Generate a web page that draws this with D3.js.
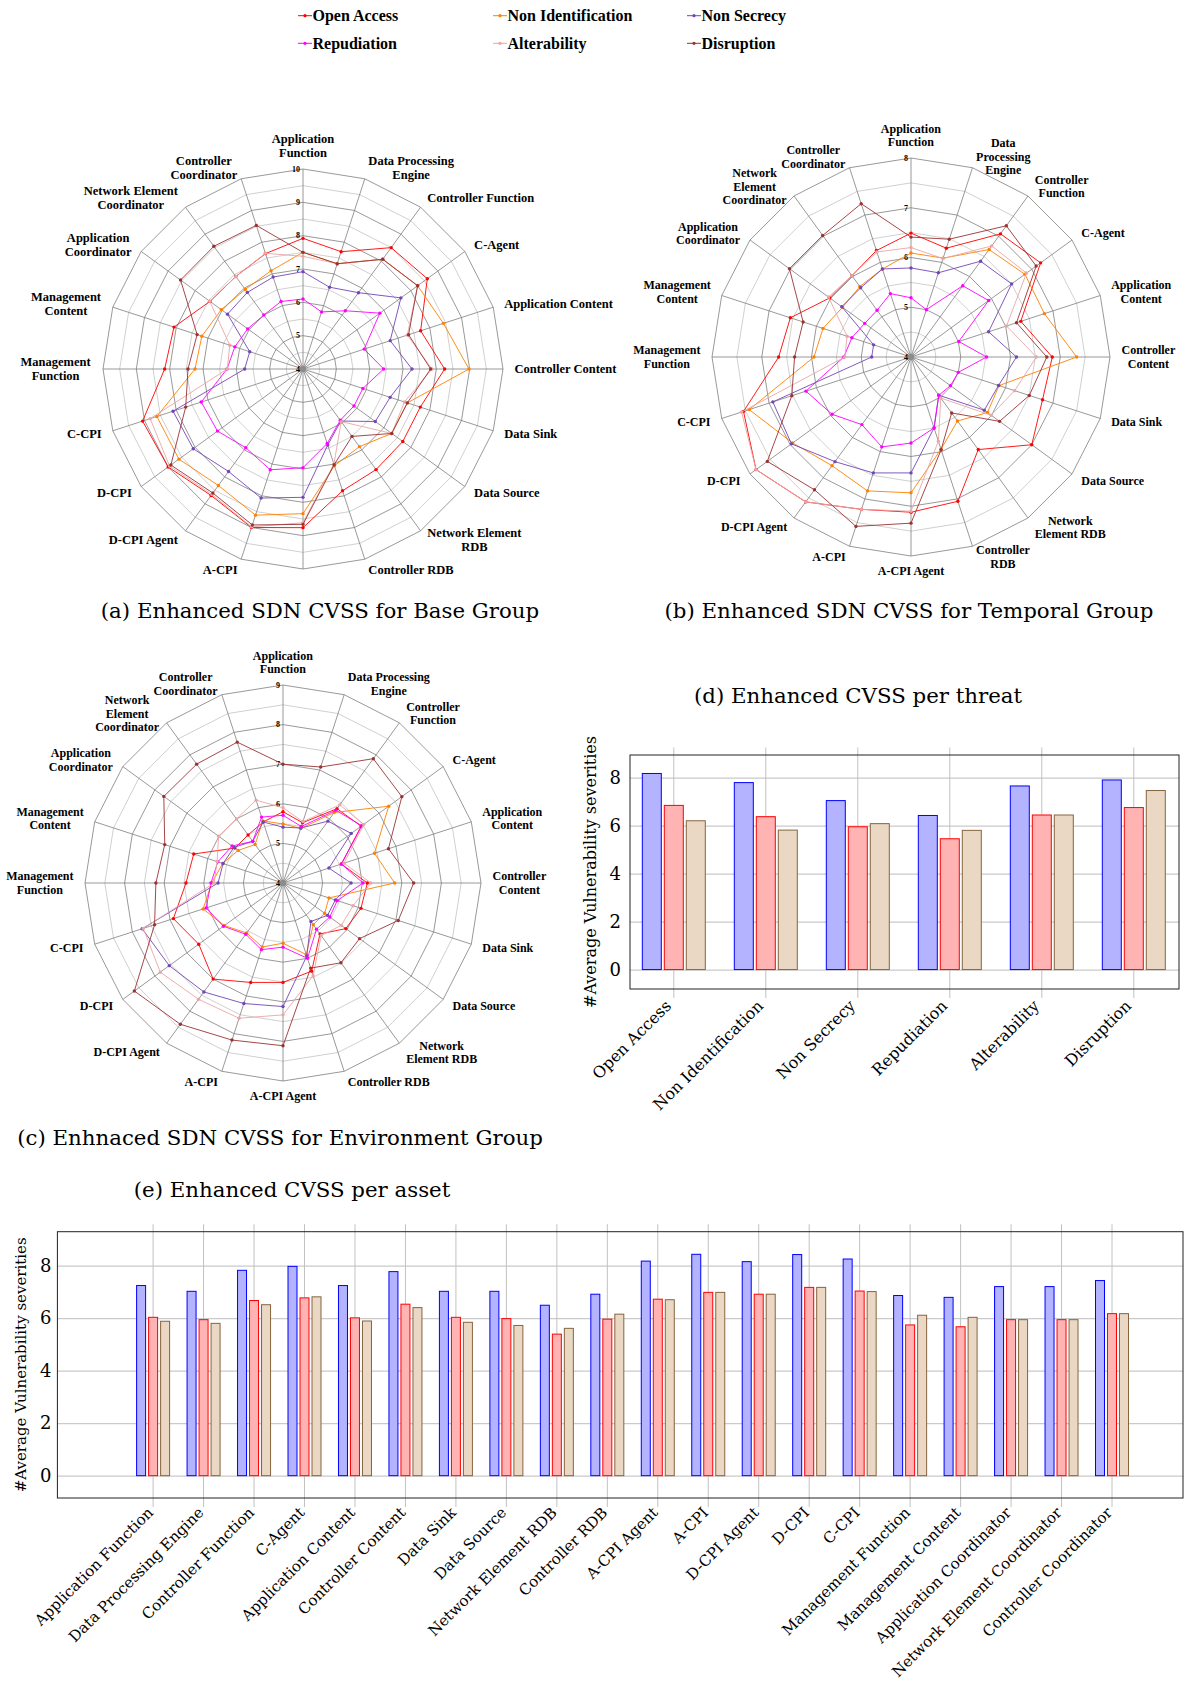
<!DOCTYPE html>
<html>
<head>
<meta charset="utf-8">
<script src="https://cdn.jsdelivr.net/npm/d3@7"></script>
<style>
  body { margin: 0; background: #fff; }
  svg { display: block; }
  .rl { font-family: "Liberation Serif", "Times New Roman", serif; font-weight: bold; fill: #000; }
  .cap { font-family: "DejaVu Serif", serif; fill: #000; }
</style>
</head>
<body>
<svg id="fig" width="1184" height="1682"></svg>
<script>
// ---- categories ----
const threats = ["Open Access", "Non Identification", "Non Secrecy", "Repudiation", "Alterability", "Disruption"];
const threatColors = ["#ff0000", "#ff8000", "#7346b5", "#ff00ff", "#eaa6a6", "#9b3232"];

const assets = ["Application Function", "Data Processing Engine", "Controller Function", "C-Agent",
  "Application Content", "Controller Content", "Data Sink", "Data Source", "Network Element RDB",
  "Controller RDB", "A-CPI Agent", "A-CPI", "D-CPI Agent", "D-CPI", "C-CPI", "Management Function",
  "Management Content", "Application Coordinator", "Network Element Coordinator", "Controller Coordinator"];

// radar axis labels (line breaks as drawn)
const labelsBase = ["Application\nFunction", "Data Processing\nEngine", "Controller Function", "C-Agent",
  "Application Content", "Controller Content", "Data Sink", "Data Source", "Network Element\nRDB",
  "Controller RDB", "", "A-CPI", "D-CPI Agent", "D-CPI", "C-CPI", "Management\nFunction",
  "Management\nContent", "Application\nCoordinator", "Network Element\nCoordinator", "Controller\nCoordinator"];
const labelsTemporal = ["Application\nFunction", "Data\nProcessing\nEngine", "Controller\nFunction", "C-Agent",
  "Application\nContent", "Controller\nContent", "Data Sink", "Data Source", "Network\nElement RDB",
  "Controller\nRDB", "A-CPI Agent", "A-CPI", "D-CPI Agent", "D-CPI", "C-CPI", "Management\nFunction",
  "Management\nContent", "Application\nCoordinator", "Network\nElement\nCoordinator", "Controller\nCoordinator"];
const labelsEnvironment = ["Application\nFunction", "Data Processing\nEngine", "Controller\nFunction", "C-Agent",
  "Application\nContent", "Controller\nContent", "Data Sink", "Data Source", "Network\nElement RDB",
  "Controller RDB", "A-CPI Agent", "A-CPI", "D-CPI Agent", "D-CPI", "C-CPI", "Management\nFunction",
  "Management\nContent", "Application\nCoordinator", "Network\nElement\nCoordinator", "Controller\nCoordinator"];

// ---- radar scores, one row per threat (same order as threats) ----
const baseScores = [
  [7.92, 7.7, 8.5, 8.61, 7.71, 8.25, 7.7, 7.7, 7.73, 7.84, 8.76, 9.0, 8.69, 9.0, 9.06, 8.15, 8.07, 7.45, 7.43, 7.64],
  [7.5, 7.32, 8.07, 8.25, 8.43, 8.98, 7.29, 7.29, 6.88, 7.05, 8.34, 8.61, 8.32, 8.6, 8.61, 7.24, 7.19, 7.03, 6.95, 7.1],
  [6.92, 6.58, 6.83, 7.63, 6.75, 7.27, 6.75, 6.68, 5.93, 6.4, 7.85, 8.07, 7.8, 8.07, 8.1, 5.75, 5.68, 6.8, 6.84, 6.9],
  [6.1, 5.8, 6.16, 6.85, 5.93, 6.42, 5.89, 5.89, 5.9, 6.35, 6.96, 7.18, 6.92, 7.17, 7.21, 6.28, 6.15, 6.05, 6.0, 6.13],
  [7.38, 7.32, 8.07, 8.25, 7.29, 7.87, 7.2, 7.29, 5.95, 7.0, 8.61, 8.98, 8.65, 8.95, 8.82, 6.27, 6.31, 7.46, 7.43, 7.65],
  [7.5, 7.32, 8.07, 8.25, 7.33, 7.83, 7.29, 7.29, 6.5, 7.02, 8.66, 8.92, 8.6, 8.9, 7.7, 7.45, 7.34, 8.54, 8.55, 8.53]
];
const temporalScores = [
  [6.49, 6.3, 7.06, 7.22, 6.32, 6.84, 6.78, 7.0, 6.3, 7.05, 7.12, 7.22, 7.6, 7.85, 7.54, 6.66, 6.55, 6.02, 6.02, 6.25],
  [6.09, 6.09, 6.67, 6.83, 6.82, 7.33, 5.86, 5.9, 5.59, 5.95, 6.73, 6.83, 6.7, 6.94, 7.42, 5.95, 5.86, 5.7, 5.75, 5.86],
  [5.79, 5.78, 6.38, 6.5, 5.64, 6.12, 5.85, 5.82, 4.95, 5.5, 6.33, 6.45, 6.6, 6.97, 6.92, 4.79, 4.79, 5.72, 5.72, 5.86],
  [5.19, 5.0, 5.77, 5.93, 5.01, 5.52, 5.0, 4.98, 4.95, 5.5, 5.73, 5.9, 5.68, 5.96, 6.22, 5.35, 5.25, 5.15, 5.16, 5.34],
  [6.2, 6.08, 6.76, 6.87, 6.02, 6.52, 6.19, 5.99, 5.02, 5.78, 7.1, 7.22, 7.6, 7.85, 7.58, 5.33, 5.35, 6.05, 6.02, 6.22],
  [6.41, 6.49, 7.26, 7.11, 6.23, 6.73, 6.5, 6.2, 5.39, 5.96, 7.34, 7.58, 7.3, 7.57, 6.52, 6.34, 6.28, 7.02, 7.02, 7.24]
];
const environmentScores = [
  [5.8, 5.6, 6.32, 6.44, 5.55, 6.13, 6.07, 5.96, 5.59, 6.34, 6.51, 6.64, 7.0, 6.63, 6.91, 6.45, 6.37, 5.5, 5.5, 5.62],
  [5.49, 5.45, 6.2, 7.3, 6.43, 6.82, 5.22, 5.3, 5.3, 5.9, 5.52, 5.7, 5.56, 5.83, 6.12, 5.8, 5.6, 5.4, 5.2, 5.65],
  [5.41, 5.46, 5.93, 6.13, 5.22, 5.72, 5.39, 5.39, 5.2, 5.94, 7.12, 7.2, 7.4, 7.55, 7.74, 5.64, 5.59, 5.53, 5.3, 5.62],
  [5.71, 5.5, 6.27, 6.46, 5.55, 6.02, 5.44, 5.46, 5.44, 6.0, 5.62, 5.77, 5.6, 5.86, 6.04, 5.82, 5.73, 5.59, 5.3, 5.75],
  [5.9, 5.63, 6.44, 6.52, 5.62, 6.22, 5.86, 5.82, 5.64, 6.46, 7.33, 7.59, 7.63, 7.83, 7.71, 5.74, 5.75, 6.01, 6.0, 6.2],
  [7.0, 7.08, 7.88, 7.71, 6.8, 7.3, 7.06, 6.39, 6.49, 6.26, 8.11, 8.17, 8.41, 8.64, 7.41, 7.21, 7.14, 7.72, 7.71, 7.74]
];

// ---- averages per threat (base / temporal / environment) ----
const threatBase = [8.17, 7.79, 7.04, 6.42, 7.65, 7.9];
const threatTemporal = [6.84, 6.37, 5.95, 5.45, 6.44, 6.75];
const threatEnvironment = [6.2, 5.81, 6.08, 5.8, 6.44, 7.46];

// ---- averages per asset ----
const assetBase = [7.24, 7.02, 7.82, 7.97, 7.24, 7.77, 7.02, 7.02, 6.49, 6.91, 8.17, 8.43, 8.15, 8.42, 8.25, 6.86, 6.79, 7.2, 7.2, 7.43];
const assetTemporal = [6.03, 5.94, 6.67, 6.77, 6.01, 6.53, 6.03, 5.98, 5.39, 5.96, 6.72, 6.98, 6.91, 7.17, 7.03, 5.74, 5.67, 5.94, 5.94, 6.17];
const assetEnvironment = [5.88, 5.8, 6.51, 6.81, 5.89, 6.4, 5.84, 5.72, 5.61, 6.15, 6.7, 6.98, 6.91, 7.17, 7.01, 6.11, 6.03, 5.94, 5.94, 6.17];

const barTicks = [0, 2, 4, 6, 8];
const barFill = ["#b3b3ff", "#ffb3b3", "#ead8c4"];
const barStroke = ["#0000ff", "#ff0000", "#86643f"];

const svg = d3.select("#fig");

// ---------- legend ----------
const legendX = [298, 493, 687];
const legendY = [15.7, 43.3];
threats.forEach((t, i) => {
  const x0 = legendX[i % 3], y0 = legendY[Math.floor(i / 3)];
  const lg = svg.append("g");
  lg.append("line").attr("x1", x0).attr("x2", x0 + 14).attr("y1", y0).attr("y2", y0)
    .attr("stroke", threatColors[i]).attr("stroke-width", 1);
  lg.append("circle").attr("cx", x0 + 7).attr("cy", y0).attr("r", 1.6).attr("fill", threatColors[i]);
  lg.append("text").attr("class", "rl").attr("x", x0 + 14.5).attr("y", y0 + 5.5)
    .attr("font-size", 16).text(t);
});

// ---------- radar ----------
function drawRadar(cfg) {
  const n = assets.length;
  const step = 2 * Math.PI / n;
  const r = d3.scaleLinear().domain([4, cfg.max]).range([0, cfg.R]);
  const g = svg.append("g").attr("transform", `translate(${cfg.cx},${cfg.cy})`);
  const ring = d3.lineRadial().angle((d, i) => i * step).radius(d => r(d)).curve(d3.curveLinearClosed);
  const levels = d3.range(4.5, cfg.max + 0.001, 0.5);

  // half-step rings (light) under the whole-number rings (dark)
  g.append("g").selectAll("path").data(levels.filter(v => v % 1 !== 0)).join("path")
    .attr("d", v => ring(assets.map(() => v)))
    .attr("fill", "none").attr("stroke", "#c4c4c4").attr("stroke-width", 0.8);
  g.append("g").selectAll("path").data(levels.filter(v => v % 1 === 0)).join("path")
    .attr("d", v => ring(assets.map(() => v)))
    .attr("fill", "none").attr("stroke", "#7f7f7f").attr("stroke-width", 0.8);
  g.append("g").selectAll("line").data(assets).join("line")
    .attr("x1", 0).attr("y1", 0)
    .attr("x2", (d, i) => Math.sin(i * step) * cfg.R)
    .attr("y2", (d, i) => -Math.cos(i * step) * cfg.R)
    .attr("stroke", "#7f7f7f").attr("stroke-width", 0.8);
  g.append("circle").attr("r", 3.2).attr("fill", "#8c8c8c");

  g.append("g").selectAll("text").data(d3.range(4, cfg.max + 0.001, 1)).join("text")
    .attr("class", "rl").attr("font-size", 8).attr("text-anchor", "end")
    .attr("x", -3).attr("y", v => -r(v)).attr("dy", "0.35em").text(v => v);

  cfg.scores.forEach((vals, s) => {
    const line = d3.lineRadial().angle((d, i) => i * step).radius(d => r(d)).curve(d3.curveLinearClosed);
    g.append("path").attr("d", line(vals)).attr("fill", "none")
      .attr("stroke", threatColors[s]).attr("stroke-width", 0.9);
    g.append("g").selectAll("circle").data(vals).join("circle")
      .attr("cx", (d, i) => Math.sin(i * step) * r(d))
      .attr("cy", (d, i) => -Math.cos(i * step) * r(d))
      .attr("r", 1.7).attr("fill", threatColors[s]);
  });

  // axis labels: west/east anchored beside the rim, north/south at top and bottom
  cfg.labels.forEach((lab, i) => {
    if (!lab) return;
    const t = g.append("text").attr("class", "rl").attr("font-size", cfg.fs).attr("text-anchor", "middle");
    lab.split("\n").forEach((ln, k) => t.append("tspan").attr("x", 0).attr("dy", k ? cfg.lh : 0).text(ln));
    const b = t.node().getBBox();
    const ux = Math.sin(i * step), uy = -Math.cos(i * step);
    const rx = ux * cfg.R, ry = uy * cfg.R;
    let left, top;
    if (Math.abs(ux) > 0.05) {
      const px = rx + ux * cfg.pad, py = ry + uy * cfg.pad;
      left = ux > 0 ? px : px - b.width;
      top = py - b.height / 2;
    } else {
      left = -b.width / 2;
      top = uy < 0 ? ry - 9 - b.height : ry + 8;
    }
    t.attr("transform", `translate(${left - b.x},${top - b.y})`);
  });
}

drawRadar({ cx: 303, cy: 369, R: 200, max: 10, scores: baseScores, labels: labelsBase, fs: 12.5, lh: 14, pad: 11.5 });
drawRadar({ cx: 911, cy: 357, R: 199, max: 8, scores: temporalScores, labels: labelsTemporal, fs: 12, lh: 13.5, pad: 11.5 });
drawRadar({ cx: 283, cy: 883, R: 198, max: 9, scores: environmentScores, labels: labelsEnvironment, fs: 12, lh: 13.5, pad: 11.5 });

// ---------- grouped bars ----------
function drawBars(cfg) {
  const x = d3.scalePoint().domain(cfg.cats).range(cfg.xr);
  const inner = d3.scaleBand().domain([0, 1, 2])
    .range([-1.5 * cfg.step, 1.5 * cfg.step])
    .paddingInner(cfg.gap / cfg.step).paddingOuter(cfg.gap / cfg.step / 2);
  const y = d3.scaleLinear().domain(cfg.yd).range([cfg.bottom, cfg.top]);
  const g = svg.append("g");
  const w = cfg.right - cfg.left;

  // horizontal grid
  const gy = g.append("g").attr("transform", `translate(${cfg.left},0)`)
    .call(d3.axisLeft(y).tickValues(barTicks).tickSize(-w).tickFormat(""));
  gy.select(".domain").remove();
  gy.selectAll("line").attr("stroke", "#cacaca").attr("stroke-width", 1.2);

  // vertical grid with outside ticks
  g.append("g").selectAll("line").data(cfg.cats).join("line")
    .attr("x1", d => x(d)).attr("x2", d => x(d))
    .attr("y1", cfg.top - 7.5).attr("y2", cfg.bottom + 9)
    .attr("stroke", "#c2c2c2").attr("stroke-width", 1);

  // bars
  [cfg.base, cfg.temporal, cfg.env].forEach((vals, s) => {
    g.append("g").selectAll("rect").data(vals).join("rect")
      .attr("x", (d, i) => x(cfg.cats[i]) + inner(s))
      .attr("width", inner.bandwidth())
      .attr("y", d => y(d))
      .attr("height", d => y(0) - y(d))
      .attr("fill", barFill[s]).attr("stroke", barStroke[s]).attr("stroke-width", 1);
  });

  // frame
  g.append("rect").attr("x", cfg.left).attr("y", cfg.top).attr("width", w).attr("height", cfg.bottom - cfg.top)
    .attr("fill", "none").attr("stroke", "#222").attr("stroke-width", 1);

  // y tick labels
  const ya = g.append("g").attr("transform", `translate(${cfg.left},0)`)
    .call(d3.axisLeft(y).tickValues(barTicks).tickSize(0).tickPadding(cfg.tp));
  ya.select(".domain").remove();
  ya.selectAll("text").attr("class", "cap").attr("font-size", 18).attr("fill", "#000");

  // x tick labels, rotated
  const xa = g.append("g").attr("transform", `translate(0,${cfg.bottom})`)
    .call(d3.axisBottom(x).tickSize(0));
  xa.select(".domain").remove();
  xa.selectAll("text").attr("class", "cap").attr("font-size", cfg.xfs).attr("fill", "#000")
    .attr("y", null).attr("dy", null).attr("text-anchor", "end")
    .attr("dominant-baseline", "central")
    .attr("transform", `translate(${cfg.lx},${cfg.ly}) rotate(-45)`);

  // y axis title
  g.append("text").attr("class", "cap").attr("font-size", cfg.yfs).attr("text-anchor", "middle")
    .attr("transform", `translate(${cfg.ylx},${(cfg.top + cfg.bottom) / 2}) rotate(-90)`)
    .text("#Average Vulnerability severities");
}

drawBars({
  cats: threats, xr: [673.8, 1133.8], step: 22, gap: 3,
  left: 630, right: 1179, top: 755, bottom: 989, yd: [-0.81, 8.94],
  base: threatBase, temporal: threatTemporal, env: threatEnvironment,
  tp: 9, xfs: 16, lx: -6, ly: 14, ylx: 596, yfs: 16
});
drawBars({
  cats: assets, xr: [153.1, 1112], step: 12, gap: 3,
  left: 57.4, right: 1183, top: 1231.7, bottom: 1498, yd: [-0.85, 9.29],
  base: assetBase, temporal: assetTemporal, env: assetEnvironment,
  tp: 6, xfs: 15.1, lx: -3, ly: 12, ylx: 26, yfs: 15
});

// ---------- captions ----------
const captions = [
  { t: "(a) Enhanced SDN CVSS for Base Group", x: 320, y: 618 },
  { t: "(b) Enhanced SDN CVSS for Temporal Group", x: 909, y: 618 },
  { t: "(c) Enhnaced SDN CVSS for Environment Group", x: 280, y: 1145 },
  { t: "(d) Enhanced CVSS per threat", x: 858, y: 703 },
  { t: "(e) Enhanced CVSS per asset", x: 292, y: 1197 }
];
svg.append("g").selectAll("text").data(captions).join("text")
  .attr("class", "cap").attr("font-size", 21.3).attr("text-anchor", "middle")
  .attr("x", d => d.x).attr("y", d => d.y).text(d => d.t);
</script>
</body>
</html>
